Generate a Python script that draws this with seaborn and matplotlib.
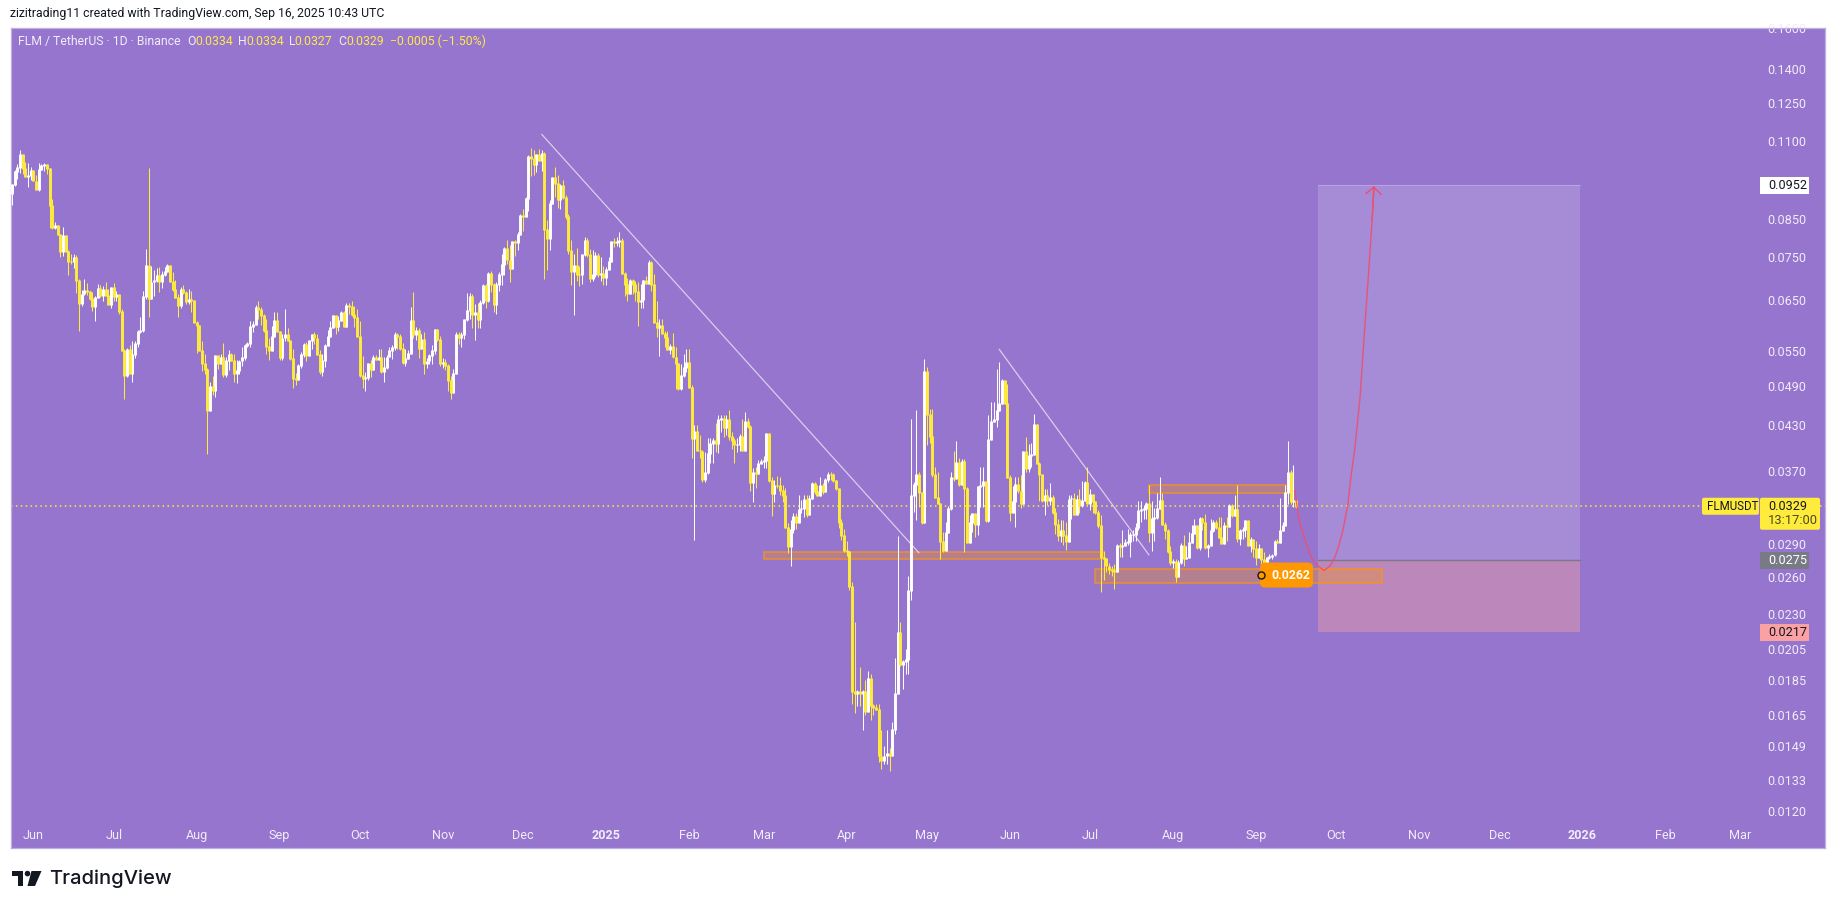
import numpy as np
import pandas as pd
import matplotlib
matplotlib.use("Agg")
import matplotlib.pyplot as plt
import matplotlib.dates as mdates
from matplotlib.patches import Rectangle, FancyBboxPatch, Polygon, Circle
from matplotlib.transforms import IdentityTransform
import seaborn as sns

# ---------- daily candles (FLM/USDT), last bar Sep 16 2025 ----------
close_a = [.0953,.0995,.1009,.1054,.1005,.0980,.0983,.1000,.0965,.0938,.1002,.1016,.1019,.1005,.0890,.0828,.0833,.0808,.0765,.0806,
 .0765,.0740,.0739,.0750,.0694,.0644,.0664,.0671,.0669,.0655,.0637,.0657,.0677,.0660,.0675,.0660,.0641,.0679,.0659,.0664,
 .0626,.0551,.0507,.0553,.0511,.0543,.0563,.0586,.0588,.0658,.0729,.0655,.0691,.0694,.0705,.0692,.0708,.0715,.0729,.0692,
 .0673,.0657,.0639,.0675,.0667,.0647,.0652,.0649,.0605,.0598,.0551,.0527,.0517,.0452,.0489,.0482,.0542,.0527,.0539,.0509,
 .0533,.0544,.0533,.0510,.0515,.0532,.0538,.0560,.0563,.0596,.0601,.0635,.0631,.0618,.0588,.0558,.0551,.0577,.0608,.0586,
 .0538,.0574,.0581,.0570,.0536,.0502,.0501,.0524,.0544,.0562,.0542,.0569,.0581,.0574,.0544,.0513,.0533,.0560,.0577,.0595,
 .0618,.0596,.0609,.0625,.0597,.0639,.0638,.0621,.0615,.0577,.0507,.0502,.0503,.0527,.0517,.0539,.0534,.0539,.0513,.0520,
 .0539,.0551,.0557,.0581,.0577,.0554,.0530,.0537,.0546,.0609,.0581,.0588,.0554,.0572,.0528,.0532,.0542,.0551,.0590,.0572,
 .0527,.0529,.0524,.0498,.0480,.0511,.0580,.0575,.0581,.0610,.0628,.0659,.0621,.0625,.0611,.0646,.0682,.0649,.0711,.0686,
 .0642,.0686,.0709]
high_a = [.0953,.1002,.1022,.1068,.1054,.1027,.1024,.1011,.1002,.0983,.1024,.1022,.1023,.1022,.1009,.0908,.0843,.0835,.0808,.0830,
 .0808,.0767,.0758,.0757,.0756,.0698,.0673,.0698,.0688,.0669,.0668,.0660,.0686,.0684,.0682,.0692,.0675,.0680,.0688,.0671,
 .0664,.0631,.0554,.0556,.0560,.0569,.0568,.0590,.0616,.0671,.0771,.1008,.0729,.0719,.0724,.0725,.0717,.0726,.0733,.0732,
 .0715,.0695,.0664,.0679,.0685,.0671,.0675,.0671,.0647,.0608,.0599,.0569,.0544,.0519,.0496,.0507,.0542,.0542,.0544,.0565,
 .0539,.0551,.0546,.0545,.0534,.0533,.0557,.0562,.0566,.0607,.0607,.0640,.0649,.0636,.0621,.0611,.0574,.0598,.0625,.0626,
 .0588,.0582,.0631,.0594,.0569,.0554,.0511,.0527,.0548,.0564,.0566,.0569,.0582,.0585,.0581,.0551,.0545,.0563,.0590,.0608,
 .0619,.0619,.0618,.0628,.0628,.0644,.0644,.0649,.0639,.0631,.0608,.0540,.0513,.0529,.0533,.0542,.0542,.0554,.0554,.0539,
 .0542,.0557,.0560,.0585,.0584,.0581,.0565,.0554,.0551,.0637,.0669,.0595,.0593,.0582,.0586,.0538,.0544,.0560,.0590,.0590,
 .0578,.0538,.0536,.0527,.0507,.0518,.0586,.0586,.0586,.0611,.0666,.0666,.0664,.0642,.0645,.0652,.0686,.0686,.0715,.0717,
 .0688,.0690,.0713]
low_a = [.0892,.0948,.0972,.0991,.0989,.0978,.0946,.0967,.0965,.0937,.0935,.1002,.0998,.0989,.0826,.0824,.0824,.0806,.0750,.0752,
 .0763,.0708,.0733,.0724,.0667,.0587,.0639,.0662,.0662,.0652,.0628,.0608,.0655,.0657,.0649,.0659,.0641,.0635,.0648,.0648,
 .0622,.0550,.0469,.0504,.0510,.0496,.0537,.0557,.0583,.0585,.0653,.0616,.0660,.0659,.0691,.0669,.0677,.0705,.0713,.0690,
 .0671,.0655,.0615,.0635,.0664,.0642,.0642,.0626,.0603,.0546,.0550,.0515,.0510,.0391,.0452,.0475,.0472,.0518,.0527,.0504,
 .0505,.0516,.0532,.0497,.0494,.0510,.0524,.0533,.0557,.0557,.0585,.0599,.0611,.0600,.0585,.0544,.0533,.0550,.0575,.0585,
 .0533,.0534,.0569,.0568,.0533,.0486,.0492,.0499,.0520,.0539,.0532,.0541,.0554,.0563,.0542,.0510,.0506,.0521,.0560,.0577,
 .0594,.0582,.0588,.0608,.0595,.0595,.0621,.0618,.0595,.0575,.0504,.0487,.0481,.0499,.0505,.0517,.0533,.0533,.0511,.0497,
 .0518,.0539,.0535,.0551,.0554,.0551,.0526,.0524,.0537,.0545,.0574,.0570,.0537,.0554,.0510,.0520,.0527,.0527,.0544,.0569,
 .0524,.0520,.0516,.0481,.0469,.0480,.0510,.0563,.0557,.0572,.0608,.0611,.0594,.0570,.0594,.0594,.0643,.0635,.0646,.0669,
 .0625,.0621,.0670]

close_b = [.0733,.0771,.0743,.0723,.0789,.0787,.0808,.0861,.0859,.0912,.1048,.1039,.1020,.1054,.1033,.1056,.0821,.0797,.0895,.0976,
 .0956,.0908,.0951,.0915,.0858,.0767,.0715,.0729,.0709,.0708,.0757,.0793,.0757,.0698,.0709,.0754,.0709,.0710,.0700,.0721,
 .0739,.0789,.0788,.0789,.0794,.0710,.0685,.0666,.0694,.0685,.0670,.0647,.0651,.0694,.0688,.0738,.0685,.0605,.0595,.0598,
 .0582,.0575,.0553,.0558,.0539,.0527,.0486,.0507,.0521,.0530,.0488,.0412,.0422,.0396,.0395,.0359,.0368,.0392,.0405,.0409,
 .0405,.0439,.0440,.0427,.0439,.0415,.0409,.0403,.0404,.0415,.0396,.0435,.0428,.0356,.0368,.0366,.0379,.0381,.0383,.0418,
 .0358,.0343,.0353,.0352,.0347,.0341,.0307,.0288,.0305,.0318,.0312,.0326,.0327,.0337,.0320,.0338,.0355,.0345,.0341,.0353,
 .0345,.0359,.0366,.0365,.0358,.0349,.0312,.0299,.0284,.0283]
high_b = [.0758,.0775,.0793,.0780,.0791,.0793,.0815,.0866,.0880,.0915,.1050,.1078,.1068,.1056,.1074,.1068,.1062,.0847,.0905,.0978,
 .1011,.0986,.0956,.0969,.0920,.0866,.0793,.0757,.0774,.0729,.0758,.0803,.0800,.0771,.0767,.0762,.0760,.0750,.0729,.0725,
 .0750,.0790,.0800,.0801,.0816,.0800,.0713,.0700,.0698,.0698,.0694,.0690,.0686,.0694,.0705,.0742,.0741,.0709,.0649,.0611,
 .0611,.0588,.0588,.0563,.0584,.0557,.0527,.0527,.0545,.0553,.0553,.0491,.0431,.0431,.0416,.0396,.0394,.0412,.0412,.0412,
 .0433,.0445,.0445,.0445,.0445,.0453,.0421,.0412,.0412,.0418,.0439,.0449,.0441,.0431,.0373,.0374,.0383,.0385,.0388,.0419,
 .0419,.0363,.0359,.0364,.0363,.0353,.0349,.0311,.0314,.0322,.0322,.0341,.0336,.0341,.0341,.0341,.0357,.0357,.0353,.0363,
 .0355,.0361,.0368,.0368,.0367,.0357,.0350,.0315,.0305,.0293]
low_b = [.0685,.0707,.0733,.0690,.0721,.0754,.0767,.0806,.0817,.0861,.0875,.0980,.0983,.0995,.1033,.0998,.0697,.0719,.0767,.0895,
 .0915,.0883,.0880,.0910,.0852,.0758,.0685,.0620,.0694,.0682,.0686,.0754,.0750,.0690,.0694,.0702,.0702,.0694,.0685,.0685,
 .0721,.0738,.0777,.0778,.0777,.0709,.0659,.0649,.0664,.0664,.0649,.0598,.0634,.0635,.0686,.0686,.0671,.0603,.0575,.0540,
 .0581,.0557,.0551,.0545,.0538,.0485,.0484,.0484,.0504,.0513,.0487,.0386,.0294,.0395,.0386,.0357,.0357,.0366,.0379,.0379,
 .0394,.0392,.0421,.0414,.0417,.0409,.0398,.0380,.0394,.0395,.0395,.0395,.0426,.0346,.0334,.0350,.0366,.0379,.0373,.0373,
 .0357,.0319,.0334,.0349,.0341,.0334,.0306,.0282,.0270,.0301,.0305,.0311,.0322,.0318,.0318,.0320,.0337,.0343,.0341,.0340,
 .0343,.0345,.0356,.0359,.0357,.0347,.0306,.0294,.0283,.0279]

close_c = [.0252,.0178,.0177,.0178,.0177,.0178,.0167,.0186,.0170,.0169,.0168,.0144,.0142,.0144,.0145,.0144,.0157,.0177,.0217,.0195,
 .0197,.0198,.0249,.0341,.0354,.0365,.0344,.0312,.0514,.0446,.0414,.0365,.0339,.0332,.0293,.0284,.0302,.0327,.0362,.0361,
 .0380,.0354,.0381,.0349,.0292,.0312,.0321,.0310,.0351,.0352,.0357,.0314,.0410,.0436,.0438,.0451,.0462,.0498,.0462,.0362,
 .0322,.0334,.0354,.0346,.0332,.0394,.0373,.0389,.0391,.0431,.0379,.0365,.0335,.0341,.0335,.0339,.0322,.0310,.0299,.0304,
 .0299,.0293,.0337,.0338,.0320,.0337,.0330,.0335,.0356,.0332,.0342,.0334,.0322,.0309,.0278,.0277,.0270,.0267,.0266,.0265,
 .0289,.0288,.0289,.0292,.0293,.0300,.0300,.0307,.0324,.0325,.0327,.0332,.0302,.0316,.0317,.0327,.0335,.0310,.0304,
 .0283,.0273,.0274,.0261,.0273,.0289,.0277,.0278,.0292,.0301,.0309,.0287,.0316,.0312,.0287,.0289,.0304,.0312,.0307,.0297,
 .0291,.0309,.0308,.0330,.0319,.0325,.0296,.0304,.0305,.0314,.0289,.0295,.0286,.0278,.0286,.0276,.0267,.0278,.0279,.0280,
 .0293,.0292,.0304,.0309,.0344,.0368,.0334,.0335,.0329]
high_c = [.0284,.0256,.0224,.0179,.0193,.0179,.0185,.0191,.0189,.0171,.0171,.0171,.0157,.0149,.0157,.0148,.0161,.0199,.0298,.0224,
 .0198,.0205,.0261,.0439,.0356,.0453,.0369,.0344,.0535,.0521,.0454,.0454,.0374,.0369,.0333,.0302,.0312,.0329,.0369,.0395,
 .0408,.0386,.0385,.0385,.0351,.0320,.0322,.0322,.0351,.0374,.0374,.0358,.0445,.0465,.0465,.0518,.0530,.0501,.0498,.0493,
 .0365,.0352,.0362,.0362,.0365,.0394,.0414,.0404,.0405,.0446,.0432,.0381,.0365,.0348,.0348,.0355,.0341,.0327,.0315,.0314,
 .0314,.0312,.0341,.0342,.0344,.0341,.0348,.0358,.0358,.0374,.0348,.0341,.0335,.0325,.0320,.0284,.0273,.0273,.0270,.0272,
 .0290,.0291,.0304,.0295,.0305,.0302,.0304,.0311,.0335,.0335,.0330,.0334,.0353,.0335,.0327,.0344,.0362,.0344,.0312,
 .0305,.0288,.0276,.0276,.0275,.0291,.0299,.0288,.0302,.0309,.0315,.0309,.0317,.0317,.0321,.0290,.0315,.0314,.0314,.0317,
 .0317,.0312,.0318,.0332,.0332,.0341,.0353,.0305,.0307,.0314,.0314,.0297,.0295,.0293,.0290,.0286,.0283,.0278,.0281,.0281,
 .0294,.0295,.0338,.0312,.0353,.0408,.0371,.0377,.0334]
low_c = [.0249,.0171,.0166,.0170,.0170,.0157,.0165,.0167,.0162,.0165,.0168,.0141,.0138,.0140,.0140,.0137,.0144,.0155,.0177,.0194,
 .0180,.0189,.0189,.0241,.0323,.0314,.0328,.0310,.0312,.0403,.0405,.0363,.0338,.0331,.0276,.0283,.0284,.0302,.0325,.0358,
 .0362,.0352,.0354,.0283,.0291,.0293,.0302,.0297,.0299,.0328,.0328,.0312,.0312,.0409,.0435,.0428,.0451,.0462,.0461,.0361,
 .0313,.0322,.0307,.0344,.0327,.0332,.0369,.0369,.0374,.0403,.0378,.0335,.0334,.0320,.0330,.0330,.0321,.0300,.0293,.0292,
 .0289,.0285,.0293,.0315,.0320,.0320,.0322,.0328,.0335,.0331,.0325,.0322,.0321,.0306,.0248,.0258,.0265,.0263,.0261,.0250,
 .0265,.0278,.0278,.0288,.0289,.0278,.0293,.0293,.0304,.0312,.0315,.0315,.0292,.0284,.0293,.0315,.0327,.0309,.0295,
 .0282,.0271,.0268,.0256,.0260,.0272,.0270,.0276,.0278,.0292,.0300,.0286,.0285,.0304,.0286,.0278,.0288,.0302,.0305,.0296,
 .0290,.0291,.0293,.0307,.0318,.0319,.0292,.0289,.0295,.0297,.0288,.0283,.0278,.0271,.0277,.0272,.0266,.0266,.0276,.0276,
 .0279,.0291,.0292,.0303,.0309,.0332,.0332,.0328,.0327]
first_open = .0925
last_date = "2025-09-16"

# ---------- axis ticks ----------
price_ticks = [.16,.14,.125,.11,.085,.075,.065,.055,.049,.043,.037,.029,.026,.023,.0205,.0185,.0165,.0149,.0133,.012]
month_ticks = ["2024-06-01","2024-07-01","2024-08-01","2024-09-01","2024-10-01","2024-11-01","2024-12-01","2025-01-01",
               "2025-02-01","2025-03-01","2025-04-01","2025-05-01","2025-06-01","2025-07-01","2025-08-01","2025-09-01",
               "2025-10-01","2025-11-01","2025-12-01","2026-01-01","2026-02-01","2026-03-01"]
month_labels = ["Jun","Jul","Aug","Sep","Oct","Nov","Dec","2025","Feb","Mar","Apr","May","Jun","Jul","Aug","Sep",
                "Oct","Nov","Dec","2026","Feb","Mar"]

# ---------- drawings ----------
last_price = .0329
target_price, entry_price, stop_price = .0952, .0275, .0217
position_dates = ["2025-09-24", "2025-12-31"]
zone_dates = [("2025-03-01","2025-07-06"), ("2025-07-03","2025-10-18"), ("2025-07-23","2025-09-13")]
zone_prices = [(.0276,.0283), (.0255,.0267), (.0344,.0353)]
trend_dates = [("2024-12-08","2025-04-28"), ("2025-05-28","2025-07-23")]
trend_prices = [(.1126,.0282), (.0553,.0280)]
curve_days = [257.6,258.7,259.8,261.3,262.8,264.3,266.2,268.4,270.7,272.5,274,275.5,277.4,278.5,280,281.9,283.4,284.9,286.4,287.1]
curve_prices = [.0347,.0321,.0307,.0294,.0283,.0275,.0270,.0266,.0270,.0278,.0289,.0304,.0332,.0363,.0400,.0472,.0575,.0695,.0847,.0948]
marker_date, marker_price = "2025-09-03", .0262

BG = "#9575CD"
UP = "#FFFFFF"
DOWN = "#FFEB3B"
LABEL = "#F1ECF9"
W, H = 1835, 909

sns.set_theme(style="white", rc={"axes.facecolor": BG, "figure.facecolor": "white", "axes.grid": False})
plt.rcParams["font.family"] = ["Roboto", "DejaVu Sans"]

close = np.array(close_a + close_b + close_c)
high = np.array(high_a + high_b + high_c)
low = np.array(low_a + low_b + low_c)
open_ = np.r_[first_open, close[:-1]]
dates = pd.date_range(end=last_date, periods=len(close), freq="D")
direction = np.where(close >= open_, "up", "down")
top = np.maximum(open_, close) * 1.0015
bot = np.minimum(open_, close) / 1.0015

ids = np.arange(len(close))
wicks = pd.DataFrame({"date": np.r_[dates, dates], "price": np.r_[np.maximum(high, top), np.minimum(low, bot)],
                      "bar": np.r_[ids, ids], "dir": np.r_[direction, direction]})
bodies = pd.DataFrame({"date": np.r_[dates, dates], "price": np.r_[top, bot],
                       "bar": np.r_[ids, ids], "dir": np.r_[direction, direction]})
palette = {"up": UP, "down": DOWN}

fig = plt.figure(figsize=(W / 100, H / 100), dpi=100)
ax = fig.add_axes([11 / W, (H - 848) / H, 1814 / W, 820 / H])

base = pd.Timestamp("2025-01-01")
to_num = lambda d: mdates.date2num(pd.Timestamp(d))

# long position box
x0, x1 = to_num(position_dates[0]), to_num(position_dates[1])
ax.add_patch(Rectangle((x0, entry_price), x1 - x0, target_price - entry_price, fc="#A68BD6", ec="none", zorder=1))
ax.add_patch(Rectangle((x0, stop_price), x1 - x0, entry_price - stop_price, fc="#BC87BA", ec="none", zorder=1))
ax.plot([x0, x1], [entry_price, entry_price], color="#787B86", lw=1, zorder=1.2)
ax.plot([x0, x1], [target_price, target_price], color="#B7A3DF", lw=.8, zorder=1.2)

# support / resistance zones
for (d0, d1), (p0, p1) in zip(zone_dates, zone_prices):
    a, b = to_num(d0), to_num(d1)
    ax.add_patch(Rectangle((a, p0), b - a, p1 - p0, fc=(1, .596, 0, .30), ec=(.97, .58, .1, .85), lw=1.1, zorder=1.5))

ax.axhline(last_price, color=DOWN, lw=1.1, ls=(0, (1, 2.2)), zorder=2)

# candles
sns.lineplot(data=wicks, x="date", y="price", hue="dir", units="bar", estimator=None, palette=palette,
             legend=False, lw=.75, solid_capstyle="butt", zorder=3, ax=ax)
sns.lineplot(data=bodies, x="date", y="price", hue="dir", units="bar", estimator=None, palette=palette,
             legend=False, lw=2.1, solid_capstyle="butt", zorder=3, ax=ax)

# trend lines
for (d0, d1), (p0, p1) in zip(trend_dates, trend_prices):
    sns.lineplot(x=[pd.Timestamp(d0), pd.Timestamp(d1)], y=[p0, p1], color="white", alpha=.65, lw=.9, zorder=4, ax=ax)

# projected path
curve_x = [base + pd.Timedelta(days=d) for d in curve_days]
sns.lineplot(x=curve_x, y=curve_prices, color="#EE4F6E", lw=1.0, alpha=.9, sort=False, estimator=None, zorder=5, ax=ax)
ax.annotate("", xy=(mdates.date2num(curve_x[-1]), curve_prices[-1]), xytext=(mdates.date2num(curve_x[-2]), curve_prices[-2]),
            arrowprops=dict(arrowstyle="->,head_length=0.35,head_width=0.4", color="#EE4F6E", lw=1.0, mutation_scale=14, shrinkA=0, shrinkB=0), zorder=5)

# axes
ax.set_yscale("log")
ax.set_ylim(.01062, .1601)
ax.set_xlim(mdates.date2num(base - pd.Timedelta(days=222.4)), mdates.date2num(base + pd.Timedelta(days=455.7)))
ax.set_xlabel("")
ax.set_ylabel("")
ax.yaxis.tick_right()
ax.set_yticks(price_ticks, [f"{p:.4f}" for p in price_ticks])
ax.minorticks_off()
ax.set_xticks([to_num(d) for d in month_ticks], month_labels)
ax.tick_params(axis="y", which="both", length=0, pad=-41.8, labelsize=9.1, labelcolor=LABEL)
ax.tick_params(axis="x", which="both", length=0, pad=-13.5, labelsize=9.1, labelcolor=LABEL)
for lab, txt in zip(ax.get_xticklabels(), month_labels):
    if txt.isdigit():
        lab.set_fontweight("bold")
for s in ax.spines.values():
    s.set_color("#BFAEE3")
    s.set_linewidth(.9)

ID = IdentityTransform()
fig.canvas.draw()


def ypx(price):
    return ax.transData.transform((ax.get_xlim()[0], price))[1]


def box(xa, xb, yc, h, color, zorder=6, rounded=0):
    if rounded:
        p = FancyBboxPatch((xa + rounded, yc - h / 2 + rounded), xb - xa - 2 * rounded, h - 2 * rounded,
                           boxstyle=f"round,pad={rounded},rounding_size={rounded}", fc=color, ec="none",
                           transform=ID, zorder=zorder, clip_on=False)
    else:
        p = Rectangle((xa, yc - h / 2), xb - xa, h, fc=color, ec="none", transform=ID, zorder=zorder, clip_on=False)
    ax.add_patch(p)


def label(x, y, s, color, size=9.1, zorder=7, **kw):
    ax.text(x, y, s, color=color, fontsize=size, transform=ID, va="center", ha=kw.pop("ha", "left"), zorder=zorder,
            clip_on=False, **kw)


# price tags on the scale
y_last = ypx(last_price)
box(1702, 1759, y_last, 17, "#FFEB3B", rounded=2)
label(1707, y_last, "FLMUSDT", "#131722", size=8.3)
box(1760, 1820, y_last - 7.5, 32, "#FFEB3B", rounded=2)
label(1768, y_last, f"{last_price:.4f}", "#131722")
label(1768, y_last - 14, "13:17:00", "#4a4a1e", size=9.3)
y_t = ypx(target_price)
box(1760, 1809, y_t, 17, "#FFFFFF")
label(1768, y_t, f"{target_price:.4f}", "#131722")
y_e = ypx(entry_price)
box(1760, 1809, y_e, 17, "#787B86")
label(1768, y_e, f"{entry_price:.4f}", "#FFFFFF")
y_s = ypx(stop_price)
box(1760, 1809, y_s, 17, "#FAA1A4")
label(1768, y_s, f"{stop_price:.4f}", "#131722")

# orange badge and marker
y_m = ypx(marker_price)
box(1260, 1313, y_m, 25, "#FF9800", zorder=5.5, rounded=5)
label(1271, y_m, f"{marker_price:.4f}", "#FFFFFF", size=8.8, fontweight="bold")
sns.scatterplot(x=[pd.Timestamp(marker_date)], y=[marker_price], s=26, color="#FF9800", edgecolor="#131722",
                linewidth=1, zorder=7, ax=ax, legend=False)

# header and legend text
fig.text(9.5 / W, 1 - 14 / H, "zizitrading11 created with TradingView.com, Sep 16, 2025 10:43 UTC", color="#131722",
         fontsize=8.82, va="center")
legend_runs = [(18, "FLM / TetherUS · 1D · Binance", LABEL), (187, "O", LABEL), (195, "0.0334", "#FFE94A"),
               (238, "H", LABEL), (246, "0.0334", "#FFE94A"), (289, "L", LABEL), (294, "0.0327", "#FFE94A"),
               (338, "C", LABEL), (346, "0.0329", "#FFE94A"), (390, "−0.0005 (−1.50%)", "#FFE94A")]
for x, s, c in legend_runs:
    fig.text(x / W, 1 - 41.5 / H, s, color=c, fontsize=8.8, va="center")

# TradingView logo
fig.add_artist(Polygon([(12, H - 871), (23, H - 871), (23, H - 886), (17.5, H - 886), (17.5, H - 876), (12, H - 876)],
                       closed=True, fc="#131722", ec="none", transform=ID))
fig.add_artist(Circle((27.5, H - 873.6), 2.8, fc="#131722", ec="none", transform=ID))
fig.add_artist(Polygon([(31.5, H - 871), (41.5, H - 871), (35, H - 886), (27.5, H - 886)],
                       closed=True, fc="#131722", ec="none", transform=ID))
fig.text(49 / W, 1 - 879 / H, "TradingView", color="#131722", fontsize=14.5, va="center", family="Inter", fontweight="medium")

fig.savefig("out.png", dpi=100, facecolor="white")
print(len(close), len(high), len(low))
